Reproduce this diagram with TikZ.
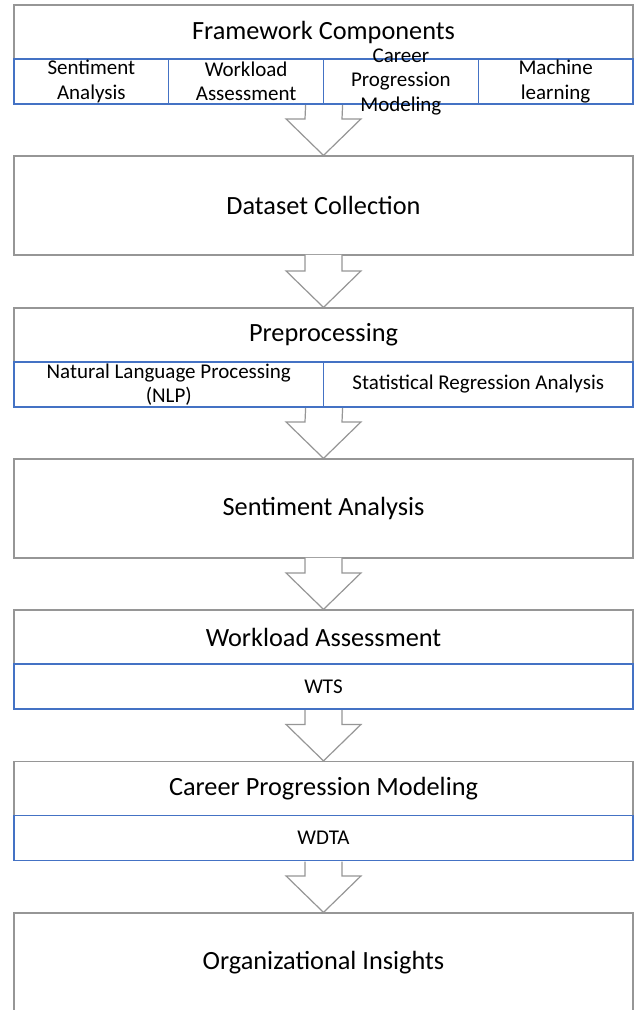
\documentclass[tikz,border=0pt]{standalone}
\usepackage{fontspec}
\setmainfont{Carlito}
\usetikzlibrary{calc}

\definecolor{boxgray}{RGB}{150,150,150}
\definecolor{rowblue}{RGB}{68,114,196}

\tikzset{
	stage/.style={draw=boxgray, line width=1.2pt, minimum width=619pt, inner sep=0pt, font=\fontsize{26.3}{31}\selectfont},
	cell/.style={draw=rowblue, line width=1.2pt, minimum height=45pt, inner sep=0pt},
	celltext/.style={align=center, inner sep=0pt, font=\fontsize{21}{24.5}\selectfont},
	flow/.style={draw=boxgray, line width=1.2pt, fill=white, line join=miter}
}

% hollow block arrow from a point on one stage down to the next stage
\newcommand{\blockarrow}[3][-0.8]{
	\draw[flow] ($(#2)+(-18.5,#1)$) -- ($(#3.north)+(-18.5,-36.5)$) -- ($(#3.north)+(-37.5,-36.5)$)
		-- (#3.north) -- ($(#3.north)+(37.5,-36.5)$) -- ($(#3.north)+(18.5,-36.5)$) -- ($(#2)+(18.5,#1)$);
}

\begin{document}
\begin{tikzpicture}[x=1pt,y=-1pt]
	
	\useasboundingbox (0,0) rectangle (639,1010);
	\clip (0,0) rectangle (639,1010);
	
	\node[stage, minimum height=54pt] (fw) at (323.5, 32)    {Framework Components};
	\node[cell, minimum width=154.75pt] (c1) at (91.375, 81.5)  {};
	\node[cell, minimum width=154.75pt] (c2) at (246.125, 81.5) {};
	\node[cell, minimum width=154.75pt] (c3) at (400.875, 81.5) {};
	\node[cell, minimum width=154.75pt] (c4) at (555.625, 81.5) {};
	\node[celltext] (c1t) at (c1) {Sentiment\\Analysis};
	\node[celltext] (c2t) at (c2) {Workload\\Assessment};
	\node[celltext] (c3t) at (c3) {Career\\Progression\\Modeling};
	\node[celltext] (c4t) at (c4) {Machine\\learning};
	
	\node[stage, minimum height=99pt] (ds) at (323.5, 205.5) {Dataset Collection};
	
	\node[stage, minimum height=54pt] (pre) at (323.5, 335)  {Preprocessing};
	\node[cell, minimum width=309.5pt] (p1) at (168.75, 384.5) {};
	\node[cell, minimum width=309.5pt] (p2) at (478.25, 384.5) {};
	\node[celltext] (p1t) at (p1) {Natural Language Processing\\(NLP)};
	\node[celltext] (p2t) at (p2) {Statistical Regression Analysis};
	
	\node[stage, minimum height=99pt] (sa) at (323.5, 508.5) {Sentiment Analysis};
	
	\node[stage, minimum height=54pt] (wa) at (323.5, 637)   {Workload Assessment};
	\node[cell, minimum width=619pt] (wts) at (323.5, 686.5) {};
	\node[celltext] (wtst) at (wts) {WTS};
	
	\node[stage, minimum height=54pt] (cpm) at (323.5, 788.5) {Career Progression Modeling};
	\node[cell, minimum width=619pt] (wdta) at (323.5, 838)  {};
	\node[celltext] (wdtat) at (wdta) {WDTA};
	
	\node[stage, minimum height=99pt] (oi) at (323.5, 962.5) {Organizational Insights};
	
	\blockarrow[0.6]{c2.south east}{ds}
	\blockarrow{ds.south}{pre}
	\blockarrow[0.6]{p1.south east}{sa}
	\blockarrow{sa.south}{wa}
	\blockarrow[0.6]{wts.south}{cpm}
	\blockarrow[0.6]{wdta.south}{oi}
	
\end{tikzpicture}
\end{document}
